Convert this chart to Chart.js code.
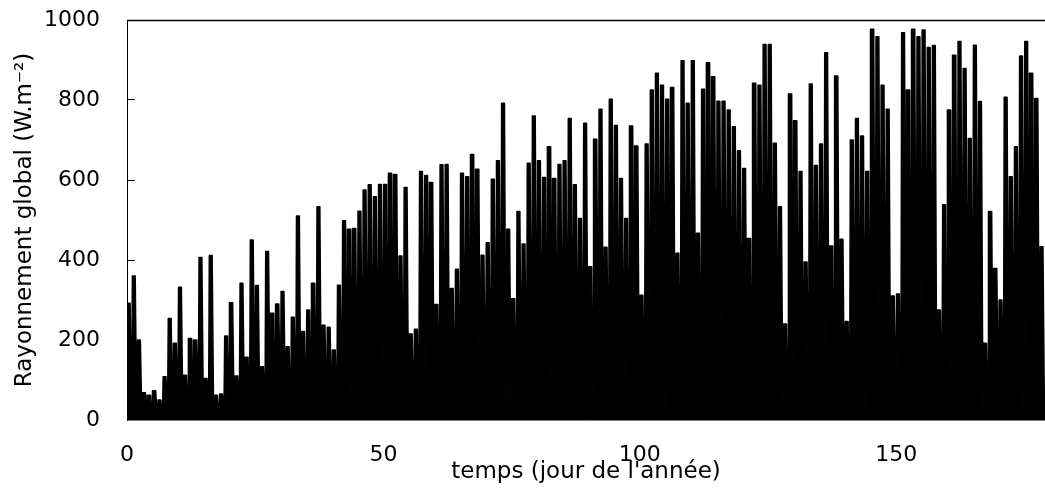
<!DOCTYPE html>
<html>
<head>
<meta charset="utf-8">
<script src="https://cdn.jsdelivr.net/npm/chart.js@4"></script>
<style>
html,body{margin:0;padding:0;background:#fff;}
#wrap{width:1045px;height:494px;}
</style>
</head>
<body>
<div id="wrap"><canvas id="c" width="1045" height="494"></canvas></div>
<script>
// Daily peak of global radiation (W.m-2), day 0 .. 178
const peaks = [
  292,360,200,68,62,73,50,108,254,192,
  332,112,204,200,406,104,411,62,65,210,
  293,110,342,157,450,336,133,421,267,290,
  321,183,257,510,221,275,342,533,237,232,
  175,337,498,477,479,522,575,588,558,589,
  589,617,614,410,581,215,227,621,611,594,
  289,638,639,329,377,617,608,664,627,412,
  443,602,648,792,477,303,521,440,642,760,
  648,606,683,604,639,648,754,588,504,742,
  383,702,777,432,802,736,604,504,735,685,
  312,690,825,867,837,802,831,417,898,792,
  898,467,827,893,858,797,797,775,733,673,
  629,454,842,837,939,939,692,533,240,815,
  748,621,395,840,636,690,918,435,860,452,
  246,700,754,710,621,977,958,837,777,310,
  315,968,825,977,958,975,931,936,275,538,
  775,912,946,879,704,937,796,192,521,379,
  300,807,608,683,910,946,867,804,433
];
const days = peaks.map((_, i) => i);           // day of year index
const xTickValues = [0, 50, 100, 150];
const yTickValues = [0, 200, 400, 600, 800, 1000];
const xTitle = "temps (jour de l'année)";
const yTitle = "Rayonnement global (W.m⁻²)";

// Each day drawn as a daylight plateau between two night-time zeros
const points = [];
days.forEach((d, i) => {
  const p = peaks[i];
  points.push({x: d - 0.1, y: 0}, {x: d + 0.05, y: p}, {x: d + 0.6, y: p}, {x: d + 0.9, y: 0});
});

const frameTop = {
  id: 'frameTop',
  afterDraw(chart) {
    const {ctx, chartArea} = chart;
    ctx.save();
    ctx.strokeStyle = '#000';
    ctx.lineWidth = 1.5;
    ctx.beginPath();
    ctx.moveTo(chartArea.left, chartArea.top + 0.5);
    ctx.lineTo(chartArea.right, chartArea.top + 0.5);
    ctx.stroke();
    ctx.restore();
  }
};

const font = 'DejaVu Sans';
new Chart(document.getElementById('c'), {
  type: 'line',
  data: {
    datasets: [{
      data: points,
      borderColor: '#000',
      backgroundColor: '#000',
      borderWidth: 1.5,
      borderJoinStyle: 'round',
      pointRadius: 0,
      fill: 'origin',
      tension: 0
    }]
  },
  options: {
    responsive: false,
    animation: false,
    devicePixelRatio: 1,
    layout: {padding: {top: 20, right: 0, bottom: 0, left: 0}},
    plugins: {legend: {display: false}, tooltip: {enabled: false}},
    scales: {
      x: {
        type: 'linear', min: 0, max: 179,
        afterBuildTicks: s => { s.ticks = xTickValues.map(v => ({value: v})); },
        afterFit: s => { s.height = 74; s.paddingLeft = 0; s.paddingRight = 0; },
        grid: {display: false},
        border: {display: true, color: '#808080', width: 1},
        ticks: {color: '#000', font: {family: font, size: 22}, padding: 14, maxRotation: 0, autoSkip: false,
                callback: v => String(v)},
        title: {display: true, text: xTitle, color: '#000', font: {family: font, size: 23}, padding: {top: 0, bottom: 8}}
      },
      y: {
        type: 'linear', min: 0, max: 1000,
        afterBuildTicks: s => { s.ticks = yTickValues.map(v => ({value: v})); },
        afterFit: s => { s.width = 127; s.paddingTop = 0; s.paddingBottom = 0; },
        grid: {drawOnChartArea: false, drawTicks: true, tickLength: -8, color: '#000', tickColor: '#000', tickWidth: 1},
        border: {display: true, color: '#000', width: 1},
        ticks: {color: '#000', font: {family: font, size: 22}, padding: 35, callback: v => String(v)},
        title: {display: true, text: yTitle, color: '#000', font: {family: font, size: 23}, padding: {top: 11, bottom: 0}}
      }
    }
  },
  plugins: [frameTop]
});
</script>
</body>
</html>
